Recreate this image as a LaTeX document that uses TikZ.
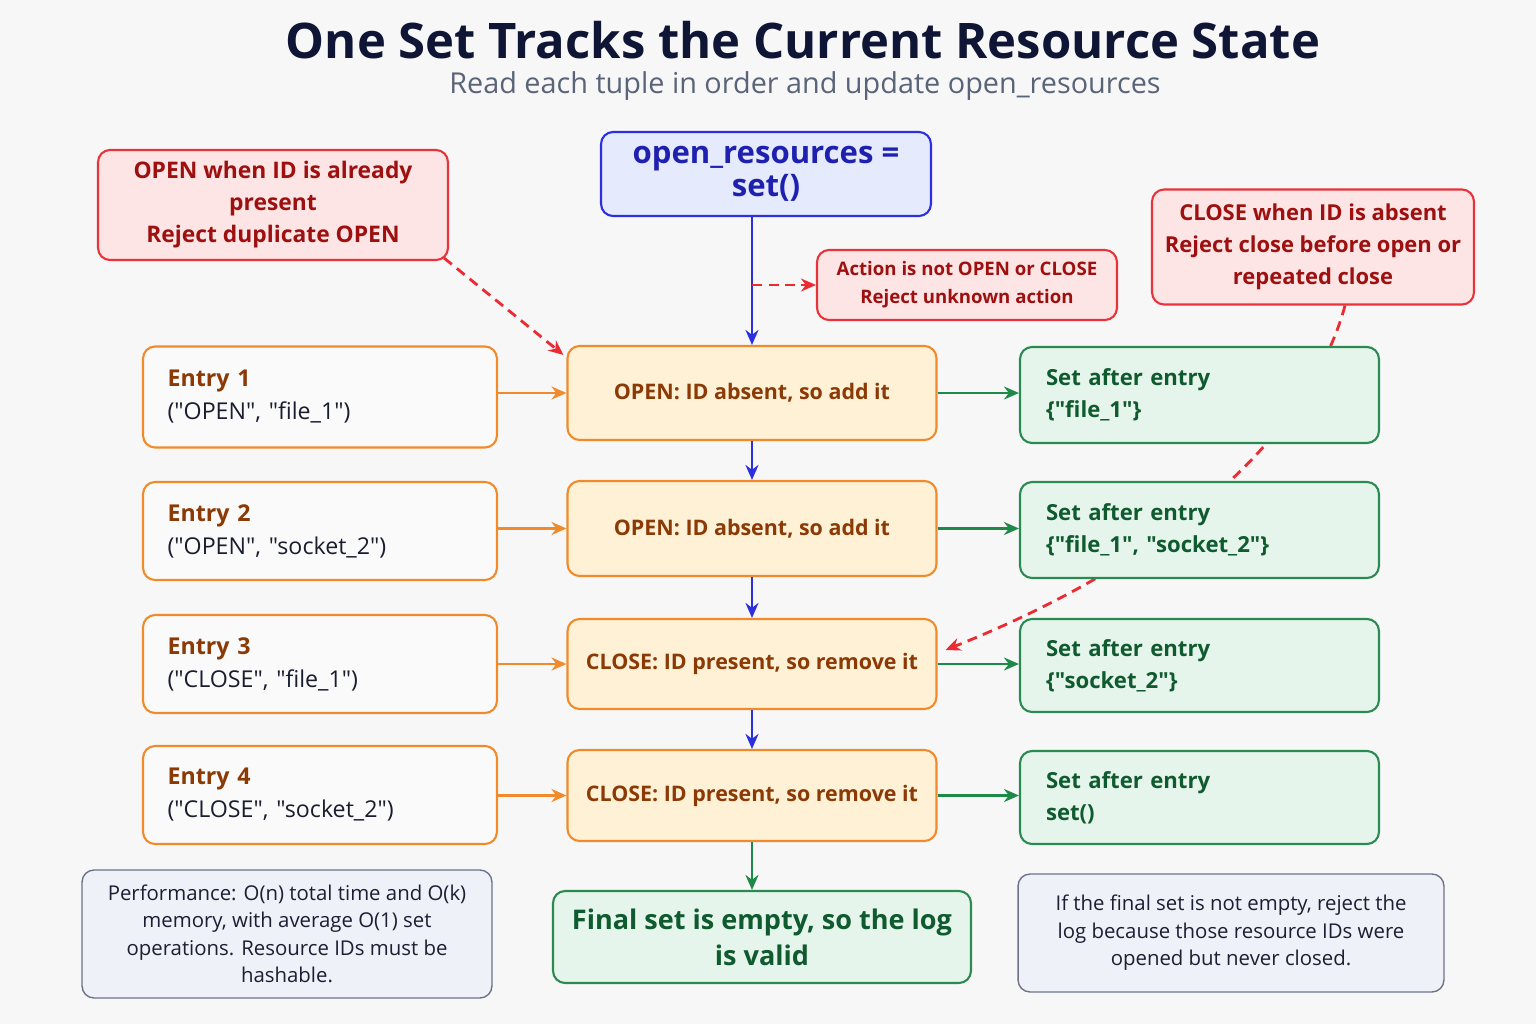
\documentclass[tikz,border=0pt]{standalone}
\usepackage{fontspec}
\setmainfont{Open Sans}[Ligatures=TeXOff]
\usetikzlibrary{arrows.meta,backgrounds}

\definecolor{pagebg}{HTML}{F7F7F8}
\definecolor{titlec}{HTML}{0F1535}
\definecolor{subc}{HTML}{5A6478}
\definecolor{bluel}{HTML}{2B2FE0}
\definecolor{bluef}{HTML}{E6EAFD}
\definecolor{bluet}{HTML}{1E20B0}
\definecolor{redl}{HTML}{E8333A}
\definecolor{redf}{HTML}{FDE5E5}
\definecolor{redt}{HTML}{9E1010}
\definecolor{oral}{HTML}{F08A2A}
\definecolor{oraf}{HTML}{FFF1D6}
\definecolor{orat}{HTML}{8B3A05}
\definecolor{entf}{HTML}{FAFAFA}
\definecolor{entt}{HTML}{1A1D2E}
\definecolor{grnl}{HTML}{2A8A50}
\definecolor{grnf}{HTML}{E5F5EC}
\definecolor{grnt}{HTML}{0F5A2E}
\definecolor{grnarr}{HTML}{1E8A4A}
\definecolor{grayl}{HTML}{6B7488}
\definecolor{grayf}{HTML}{EEF1F7}
\definecolor{grayt}{HTML}{1B1F33}

\begin{document}
\begin{tikzpicture}[x=0.02cm, y=-0.02cm,
    box/.style={draw, rounded corners=0.24cm, line width=1.2pt, align=center, inner sep=0pt},
    errbox/.style={box, draw=redl, fill=redf, text=redt},
    entrybox/.style={box, draw=oral, fill=entf, text=entt, align=left, text width=6.1cm,
      minimum width=7.08cm, minimum height=1.96cm, font=\fontsize{13.2}{18.8}\selectfont},
    opbox/.style={box, draw=oral, fill=oraf, text=orat, minimum width=7.38cm,
      font=\bfseries\fontsize{12.2}{16}\selectfont},
    setbox/.style={box, draw=grnl, fill=grnf, text=grnt, align=left, text width=6.14cm,
      minimum width=7.18cm, font=\bfseries\fontsize{12.6}{18.2}\selectfont},
    notebox/.style={box, line width=0.8pt, draw=grayl, fill=grayf, text=grayt,
      font=\fontsize{11.6}{15.6}\selectfont},
    flow/.style={line width=1.6pt, -{Stealth[length=0.3cm, width=0.26cm]}},
    reject/.style={flow, dash pattern=on 0.2cm off 0.13cm, draw=redl!85!red}
  ]
  \begin{pgfonlayer}{background}
    \fill[pagebg] (0,0) rectangle (1536,1024);
  \end{pgfonlayer}
  \useasboundingbox (0,0) rectangle (1536,1024);

  % heading
  \node[text=titlec, font=\bfseries\fontsize{27.9}{32}\selectfont] (title) at (803,40)
    {One Set Tracks the Current Resource State};
  \node[text=subc, font=\fontsize{16.4}{19}\selectfont] (subtitle) at (805,86)
    {Read each tuple in order and update open\_resources};

  % start and rejections
  \node[box, draw=bluel, fill=bluef, text=bluet, minimum width=6.6cm, minimum height=1.68cm,
    font=\bfseries\fontsize{17.7}{19}\selectfont] (init) at (766,174) {open\_resources =\\set()};
  \node[errbox, minimum width=7cm, minimum height=2.2cm, font=\bfseries\fontsize{13}{18.2}\selectfont] (dup) at (273,205)
    {OPEN when ID is already\\present\\Reject duplicate OPEN};
  \node[errbox, minimum width=6cm, minimum height=1.4cm, font=\bfseries\fontsize{10.6}{15.8}\selectfont] (act) at (967,285)
    {Action is not OPEN or CLOSE\\Reject unknown action};
  \node[errbox, minimum width=6.44cm, minimum height=2.3cm, font=\bfseries\fontsize{12.5}{18.2}\selectfont] (absent) at (1313,247)
    {CLOSE when ID is absent\\Reject close before open or\\repeated close};

  % entries
  \node[entrybox, minimum height=2.02cm] (e1) at (320,397)
    {{\bfseries\color{orat}Entry 1}\\("OPEN", "file\_1")};
  \node[entrybox] (e2) at (320,531)
    {{\bfseries\color{orat}Entry 2}\\("OPEN", "socket\_2")};
  \node[entrybox] (e3) at (320,664)
    {{\bfseries\color{orat}Entry 3}\\("CLOSE", "file\_1")};
  \node[entrybox] (e4) at (320,795)
    {{\bfseries\color{orat}Entry 4}\\("CLOSE", "socket\_2")};

  % operations
  \node[opbox, minimum height=1.88cm] (op1) at (752,393) {OPEN: ID absent, so add it};
  \node[opbox, minimum height=1.9cm] (op2) at (752,528.5) {OPEN: ID absent, so add it};
  \node[opbox, minimum height=1.8cm] (op3) at (752,664) {CLOSE: ID present, so remove it};
  \node[opbox, minimum height=1.82cm] (op4) at (752,795.5) {CLOSE: ID present, so remove it};

  % set contents
  \node[setbox, minimum height=1.92cm] (s1) at (1199.5,395) {Set after entry\\\{"file\_1"\}};
  \node[setbox, minimum height=1.92cm] (s2) at (1199.5,530) {Set after entry\\\{"file\_1", "socket\_2"\}};
  \node[setbox, minimum height=1.86cm] (s3) at (1199.5,665.5) {Set after entry\\\{"socket\_2"\}};
  \node[setbox, minimum height=1.86cm] (s4) at (1199.5,797.5) {Set after entry\\set()};

  % outcome and notes
  \node[box, draw=grnl, fill=grnf, text=grnt, minimum width=8.36cm, minimum height=1.84cm,
    font=\bfseries\fontsize{15.4}{20.5}\selectfont] (final) at (762,937)
    {Final set is empty, so the log\\is valid};
  \node[notebox, minimum width=8.2cm, minimum height=2.56cm] (perf) at (287,934)
    {Performance: O(n) total time and O(k)\\memory, with average O(1) set\\operations. Resource IDs must be\\hashable.};
  \node[notebox, minimum width=8.52cm, minimum height=2.36cm] (note) at (1231,933)
    {If the final set is not empty, reject the\\log because those resource IDs were\\opened but never closed.};

  % flow
  \draw[flow, bluel] (op1.north |- init.south) -- (op1);
  \draw[flow, bluel] (op1) -- (op2);
  \draw[flow, bluel] (op2) -- (op3);
  \draw[flow, bluel] (op3) -- (op4);
  \draw[flow, grnarr] (op4.south) -- (op4.south |- final.north);
  \foreach \i in {1,...,4} {
    \draw[flow, oral] (e\i.east |- op\i.west) -- (op\i.west);
    \draw[flow, grnarr] (op\i.east) -- (op\i.east -| s\i.west);
  }

  % rejections
  \coordinate (tap) at (op1.north |- act.west);
  \draw[reject] (tap) -- (act.west);
  \draw[reject] ([xshift=-0.1cm,yshift=0.06cm]dup.south east) -- ([xshift=-0.06cm,yshift=-0.2cm]op1.north west);
  \begin{pgfonlayer}{background}
    \draw[reject] ([xshift=0.64cm]absent.south) .. controls (1320,400) and (1220,540) .. ([xshift=0.16cm,yshift=0.28cm]op3.east);
  \end{pgfonlayer}
\end{tikzpicture}
\end{document}
